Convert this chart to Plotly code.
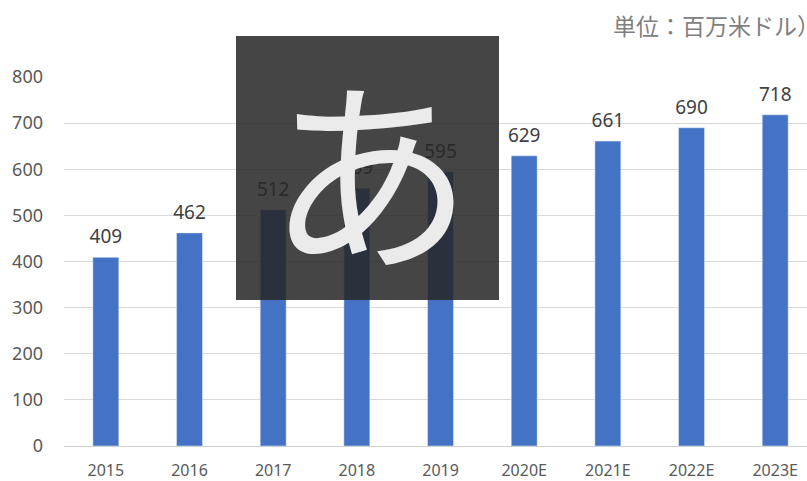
import plotly.graph_objects as go

years = ["2015", "2016", "2017", "2018", "2019", "2020E", "2021E", "2022E", "2023E"]
values = [409, 462, 512, 559, 595, 629, 661, 690, 718]
y_ticks = [0, 100, 200, 300, 400, 500, 600, 700, 800]
unit_label = "単位：百万米ドル）"
ime_char = "あ"

W, H = 807, 481
L, R, T, B = 64, 0, 77, 35
pw, ph = W - L - R, H - T - B

def px_x(x):
    return (x - L) / pw

def px_y(y):
    return (H - B - y) / ph

font_family = "Noto Sans CJK JP, Noto Sans, sans-serif"
num_font = "Noto Sans, sans-serif"

fig = go.Figure()
fig.add_trace(
    go.Bar(
        x=years,
        y=values,
        marker_color="#4472C4",
        width=0.31,
        hoverinfo="skip",
    )
)
fig.add_trace(
    go.Scatter(
        x=years,
        y=values,
        mode="markers+text",
        marker=dict(size=13, opacity=0, color="#4472C4"),
        text=[str(v) for v in values],
        textposition="top center",
        cliponaxis=False,
        textfont=dict(size=19, color="#404040", family=num_font),
        hoverinfo="skip",
    )
)

fig.update_layout(
    width=W,
    height=H,
    margin=dict(l=L, r=R, t=T, b=B),
    paper_bgcolor="white",
    plot_bgcolor="white",
    showlegend=False,
    font=dict(family=font_family),
    xaxis=dict(
        type="category",
        range=[-0.5, 8.38],
        showgrid=False,
        showline=True,
        linecolor="#d0d0d0",
        linewidth=1,
        ticks="",
        tickfont=dict(size=16, color="#595959", family=num_font),
        ticklabelstandoff=10,
    ),
    yaxis=dict(
        range=[0, 800],
        tickvals=y_ticks,
        showgrid=True,
        gridcolor="#d9d9d9",
        gridwidth=1,
        zeroline=False,
        showline=False,
        ticks="",
        tickfont=dict(size=18, color="#595959", family=num_font),
        ticklabelstandoff=20,
    ),
)

fig.add_shape(
    type="rect",
    xref="paper", yref="paper",
    x0=px_x(236), x1=px_x(499), y0=px_y(300), y1=px_y(36),
    fillcolor="rgba(39,39,39,0.86)",
    line=dict(width=0),
    layer="above",
)

fig.add_annotation(
    xref="paper", yref="paper",
    x=px_x(370), y=px_y(164),
    text=ime_char,
    showarrow=False,
    font=dict(size=206, color="#ebebeb", family=font_family),
    xanchor="center", yanchor="middle",
)

fig.add_annotation(
    xref="paper", yref="paper",
    x=px_x(611), y=px_y(25),
    text=unit_label,
    showarrow=False,
    font=dict(size=23, color="#7f7f7f", family=font_family),
    xanchor="left", yanchor="middle",
)

fig.write_html(
    "out.html",
    config={"displayModeBar": False},
    post_script="document.body.style.margin='0';document.body.style.overflow='hidden';",
)
